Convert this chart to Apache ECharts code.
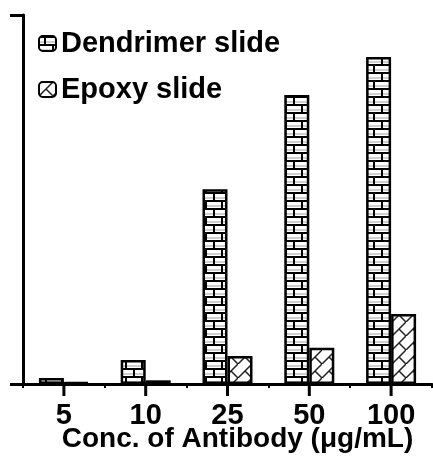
<!DOCTYPE html>
<html lang="en">
<head>
    <meta charset="UTF-8">
    <title>Antibody</title>
    <script src="https://cdn.jsdelivr.net/npm/echarts@6/dist/echarts.min.js"></script>
    <style>
        body { margin: 0; background: #fff; }
    </style>
</head>
<body>
    <div id="main" style="width: 433px;height:457px;"></div>
    <script type="text/javascript">
        // data
        const concLabels = ['5', '10', '25', '50', '100'];
        const dendrimerVals = [1.6, 6.5, 52.8, 78.3, 88.6];
        const epoxyVals = [0.5, 1.0, 7.6, 9.8, 19.0];

        // brick pattern for dendrimer
        function brickPattern() {
            const c = document.createElement('canvas');
            c.width = 16; c.height = 16;
            const ctx = c.getContext('2d');
            ctx.fillStyle = '#fff';
            ctx.fillRect(0, 0, 16, 16);
            ctx.fillStyle = '#d0d0d0';
            ctx.fillRect(0, 5, 16, 2);
            ctx.fillRect(0, 13, 16, 2);
            ctx.fillStyle = '#000';
            ctx.fillRect(0, 0, 16, 2);
            ctx.fillRect(0, 8, 16, 2);
            ctx.fillRect(5, 0, 2, 8);
            ctx.fillRect(13, 8, 2, 8);
            return c;
        }
        // zigzag hatch for epoxy
        function hatchPattern() {
            const c = document.createElement('canvas');
            c.width = 14; c.height = 14;
            const ctx = c.getContext('2d');
            ctx.fillStyle = '#fff';
            ctx.fillRect(0, 0, 14, 14);
            ctx.strokeStyle = '#222';
            ctx.lineWidth = 1.5;
            ctx.beginPath();
            ctx.moveTo(-1, 15); ctx.lineTo(15, -1);
            ctx.moveTo(7, 7); ctx.lineTo(14, 14);
            ctx.stroke();
            return c;
        }

        const chart = echarts.init(document.getElementById('main'));
        const fontFam = '"Liberation Sans", Arial, sans-serif';

        const option = {
            backgroundColor: '#fff',
            animation: false,
            grid: { left: 23, right: 1, top: 15, bottom: 73, outerBoundsMode: 'none' },
            legend: {
                orient: 'vertical',
                left: 33,
                top: 24,
                itemWidth: 17,
                itemHeight: 15,
                itemGap: 17,
                textStyle: { fontFamily: fontFam, fontWeight: 'bold', fontSize: 29, color: '#000' },
                data: ['Dendrimer slide', 'Epoxy slide']
            },
            xAxis: {
                type: 'category',
                data: concLabels,
                axisLine: { lineStyle: { color: '#000', width: 3 } },
                axisTick: { show: true, length: 4, lineStyle: { color: '#000', width: 2 } },
                axisLabel: {
                    show: true, margin: 17,
                    fontFamily: fontFam, fontWeight: 'bold', fontSize: 29, color: '#000'
                },
                name: 'Conc. of Antibody (\u03bcg/mL)',
                nameLocation: 'middle',
                nameGap: 41,
                nameMoveOverlap: false,
                nameTextStyle: { fontFamily: fontFam, fontWeight: 'bold', fontSize: 28, color: '#000', padding: [0, 0, 0, 20] }
            },
            yAxis: {
                type: 'value',
                min: 0,
                max: 100,
                interval: 100,
                axisLine: { show: true, lineStyle: { color: '#000', width: 3 } },
                axisTick: { show: true, length: 13, lineStyle: { color: '#000', width: 3 } },
                axisLabel: { show: false },
                splitLine: { show: false }
            },
            series: [{
                name: 'Dendrimer slide',
                type: 'bar',
                barWidth: 25,
                barGap: '0%',
                data: dendrimerVals,
                itemStyle: {
                    color: { image: brickPattern(), repeat: 'repeat' },
                    borderColor: '#000',
                    borderWidth: 2.5
                }
            }, {
                name: 'Epoxy slide',
                type: 'bar',
                barWidth: 25,
                data: epoxyVals,
                itemStyle: {
                    color: { image: hatchPattern(), repeat: 'repeat' },
                    borderColor: '#000',
                    borderWidth: 2.5
                }
            }, {
                // big tick under each category label
                name: 'ticks',
                type: 'custom',
                silent: true,
                clip: false,
                z: 50,
                encode: { x: 0, y: 1 },
                data: concLabels.map((c, i) => [c, 0]),
                renderItem: (params, api) => {
                    const p = api.coord([api.value(0), 0]);
                    return {
                        type: 'rect',
                        shape: { x: p[0] - 1.5, y: p[1] - 2, width: 3, height: 14 },
                        style: { fill: '#000' }
                    };
                }
            }]
        };
        chart.setOption(option);
    </script>
</body>
</html>
